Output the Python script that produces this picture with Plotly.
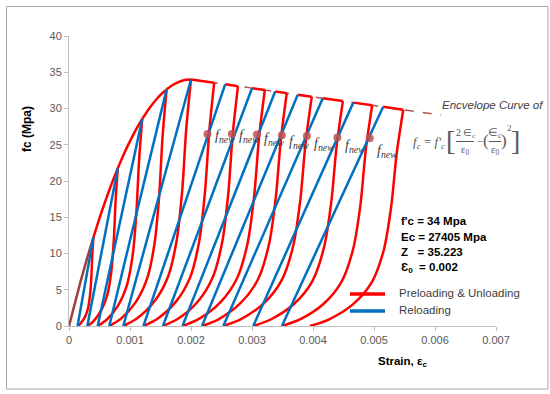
import plotly.graph_objects as go

# ---------------- data ----------------
# ascending envelope (strain, MPa)
env_strain = [0, 0.0001, 0.0002, 0.0003, 0.0004, 0.0005, 0.0006, 0.0007, 0.0008, 0.0009,
              0.0010, 0.0011, 0.0012, 0.0013, 0.0014, 0.0015, 0.0016, 0.0017, 0.0018,
              0.0019, 0.0020]
env_stress = [0, 3.32, 6.46, 9.44, 12.24, 14.88, 17.34, 19.64, 21.76, 23.72, 25.50, 27.12,
              28.56, 29.84, 30.94, 31.88, 32.64, 33.24, 33.66, 33.92, 34.00]
# descending (dashed) envelope
desc_strain = [0.0020, 0.0061]
desc_stress = [34.00, 29.09]

# unloading curves (13 cycles), from envelope point down to plastic strain
uc_strain = [
    [0.000400, 0.000382, 0.000366, 0.000345, 0.000312, 0.000260, 0.000192, 0.000140],
    [0.000800, 0.000765, 0.000735, 0.000695, 0.000630, 0.000530, 0.000400, 0.000300],
    [0.001200, 0.001149, 0.001105, 0.001047, 0.000952, 0.000806, 0.000616, 0.000470],
    [0.001600, 0.001534, 0.001478, 0.001403, 0.001280, 0.001092, 0.000848, 0.000660],
    [0.002000, 0.001922, 0.001856, 0.001767, 0.001623, 0.001401, 0.001112, 0.000890],
    [0.002380, 0.002299, 0.002229, 0.002136, 0.001986, 0.001754, 0.001452, 0.001220],
    [0.002770, 0.002684, 0.002610, 0.002512, 0.002352, 0.002106, 0.001786, 0.001540],
    [0.003210, 0.003116, 0.003035, 0.002927, 0.002751, 0.002481, 0.002130, 0.001860],
    [0.003570, 0.003473, 0.003389, 0.003278, 0.003097, 0.002819, 0.002458, 0.002180],
    [0.003980, 0.003879, 0.003792, 0.003676, 0.003487, 0.003197, 0.002820, 0.002530],
    [0.004490, 0.004387, 0.004299, 0.004181, 0.003990, 0.003696, 0.003314, 0.003020],
    [0.004970, 0.004866, 0.004778, 0.004659, 0.004467, 0.004171, 0.003786, 0.003490],
    [0.005480, 0.005373, 0.005281, 0.005159, 0.004960, 0.004654, 0.004256, 0.003950],
]
uc_stress = [
    [12.24, 9.79, 6.73, 4.28, 2.45, 1.22, 0.37, 0],
    [21.76, 17.41, 11.97, 7.62, 4.35, 2.18, 0.65, 0],
    [28.56, 22.85, 15.71, 10.00, 5.71, 2.86, 0.86, 0],
    [32.64, 26.11, 17.95, 11.42, 6.53, 3.26, 0.98, 0],
    [34.00, 27.20, 18.70, 11.90, 6.80, 3.40, 1.02, 0],
    [33.55, 26.84, 18.45, 11.74, 6.71, 3.36, 1.01, 0],
    [33.08, 26.46, 18.19, 11.58, 6.62, 3.31, 0.99, 0],
    [32.55, 26.04, 17.90, 11.39, 6.51, 3.26, 0.98, 0],
    [32.12, 25.70, 17.67, 11.24, 6.42, 3.21, 0.96, 0],
    [31.63, 25.30, 17.40, 11.07, 6.33, 3.16, 0.95, 0],
    [31.02, 24.82, 17.06, 10.86, 6.20, 3.10, 0.93, 0],
    [30.44, 24.35, 16.74, 10.65, 6.09, 3.04, 0.91, 0],
    [29.83, 23.86, 16.41, 10.44, 5.97, 2.98, 0.89, 0],
]
# reloading lines: from plastic strain (stress 0) to envelope
plastic_strain = [0.00014, 0.00030, 0.00047, 0.00066, 0.00089, 0.00122, 0.00154,
                  0.00186, 0.00218, 0.00253, 0.00302, 0.00349]
rel_strain = [0.0004, 0.0008, 0.0012, 0.0016, 0.0020, 0.00256, 0.0030, 0.00338,
              0.00375, 0.00416, 0.00466, 0.00515]
rel_stress = [12.24, 21.76, 28.56, 32.64, 34.00, 33.33, 32.80, 32.35, 31.91, 31.41,
              30.81, 30.23]
# common points f_new
fnew_strain = [0.00227, 0.00267, 0.00308, 0.00349, 0.00390, 0.00440, 0.00493]
fnew_stress = [26.5, 26.5, 26.4, 26.3, 26.2, 26.0, 25.9]
fnew_label_drop = [0.3, 0.3, 0.7, 1.0, 1.1, 1.3, 1.8]

x_ticks = [0, 0.001, 0.002, 0.003, 0.004, 0.005, 0.006, 0.007]
x_ticktext = ["0", "0.001", "0.002", "0.003", "0.004", "0.005", "0.006", "0.007"]
y_ticks = [0, 5, 10, 15, 20, 25, 30, 35, 40]

params = ["f'c = 34 Mpa", "Ec = 27405 Mpa", "Z\u00a0\u00a0\u00a0= 35.223",
          "\u0190<sub>0</sub>\u00a0 = 0.002"]
legend_names = ["Preloading & Unloading", "Reloading"]

RED = "#ff0000"
BLUE = "#0070c0"
BROWN = "#b5524f"

# ---------------- layout geometry ----------------
W, H = 550, 394
L, R, T, B = 69, 54, 36, 68
PW, PH = W - L - R, H - T - B


def px(x):
    return (x - L) / PW


def py(y):
    return (H - B - y) / PH


fig = go.Figure()

# dashed descending envelope
fig.add_trace(go.Scatter(x=desc_strain, y=desc_stress, mode="lines",
                         line=dict(color=BROWN, width=1.5, dash="dash"),
                         showlegend=False, hoverinfo="skip", cliponaxis=False))

# envelope pieces (red) between reloading point and next unloading point
ex, ey = [], []
for i in range(1, len(uc_strain)):
    s0, f0 = rel_strain[i - 1], rel_stress[i - 1]
    s1 = uc_strain[i][0]
    ex.append(s0)
    ey.append(f0)
    for s, f in zip(env_strain, env_stress):
        if s0 < s < s1:
            ex.append(s)
            ey.append(f)
    ex.append(s1)
    ey.append(uc_stress[i][0])
    ex.append(None)
    ey.append(None)
fig.add_trace(go.Scatter(x=ex, y=ey, mode="lines",
                         line=dict(color=RED, width=2.5, shape="spline", smoothing=0.6),
                         showlegend=False, hoverinfo="skip"))

# unloading curves (red)
ux, uy = [], []
for xs, ys in zip(uc_strain, uc_stress):
    ux += xs + [None]
    uy += ys + [None]
fig.add_trace(go.Scatter(x=ux, y=uy, mode="lines",
                         line=dict(color=RED, width=2.5, shape="spline", smoothing=0.8),
                         showlegend=False, hoverinfo="skip"))

# initial loading segment (brownish)
ix = [s for s in env_strain if s <= uc_strain[0][0]]
iy = env_stress[:len(ix)]
fig.add_trace(go.Scatter(x=ix, y=iy, mode="lines", line=dict(color="#a0403c", width=2.5),
                         showlegend=False, hoverinfo="skip"))

# reloading lines (blue)
bx, by = [], []
for p, s, f in zip(plastic_strain, rel_strain, rel_stress):
    bx += [p, s, None]
    by += [0, f, None]
fig.add_trace(go.Scatter(x=bx, y=by, mode="lines", line=dict(color=BLUE, width=2.5),
                         showlegend=False, hoverinfo="skip"))

# f_new points
fig.add_trace(go.Scatter(x=fnew_strain, y=fnew_stress, mode="markers",
                         marker=dict(color="#c0504d", size=8, opacity=0.85),
                         showlegend=False, hoverinfo="skip"))

annotations = []
for s, f, d in zip(fnew_strain, fnew_stress, fnew_label_drop):
    annotations.append(dict(x=s + 0.00009, y=f - d, xref="x", yref="y",
                            text="<i>f</i><sub><i>new</i></sub>", showarrow=False,
                            xanchor="left", yanchor="middle",
                            font=dict(family="Liberation Serif", size=14, color="#404040")))

# axis titles
annotations.append(dict(x=px(27), y=py(129), xref="paper", yref="paper",
                        text="<b>fc (Mpa)</b>", textangle=-90, showarrow=False,
                        xanchor="center", yanchor="middle",
                        font=dict(family="Liberation Sans", size=12, color="#000000")))
annotations.append(dict(x=px(402), y=py(362), xref="paper", yref="paper",
                        text="<b>Strain, \u03b5<sub>c</sub></b>", showarrow=False,
                        xanchor="center", yanchor="middle",
                        font=dict(family="Liberation Sans", size=11.5, color="#000000")))

# parameter block
for k, t in enumerate(params):
    annotations.append(dict(x=px(399), y=py(221 + 15.5 * k), xref="paper", yref="paper",
                            text="<b>" + t + "</b>", showarrow=False, xanchor="left",
                            yanchor="middle",
                            font=dict(family="Liberation Sans", size=11.5, color="#000000")))

# manual legend
legend_cols = [RED, BLUE]
legend_y = [294, 311]
shapes = []
for name, col, yy in zip(legend_names, legend_cols, legend_y):
    shapes.append(dict(type="line", xref="paper", yref="paper", x0=px(350), x1=px(385),
                       y0=py(yy), y1=py(yy), line=dict(color=col, width=3.5)))
    annotations.append(dict(x=px(397), y=py(yy - 1), xref="paper", yref="paper", text=name,
                            showarrow=False, xanchor="left", yanchor="middle",
                            font=dict(family="Liberation Sans", size=11.5, color="#404040")))

# envelope caption and equation
annotations.append(dict(x=px(440), y=py(105), xref="paper", yref="paper",
                        text="<i>Encvelope Curve of</i>", showarrow=False, xanchor="left",
                        yanchor="middle",
                        font=dict(family="Liberation Sans", size=11.5, color="#404040")))
EQ = dict(family="Liberation Serif", color="#595959")
eq_items = [
    ("<i>f</i><sub><i>c</i></sub> = <i>f'</i><sub><i>c</i></sub>", 447, 142, 13, "right"),
    ("[", 450, 140, 28, "center"),
    ("2\u2009\u2208<sub>c</sub>", 465, 133, 10, "center"),
    ("\u03b5<sub>0</sub>", 465, 150, 10.5, "center"),
    ("\u2212", 480, 141, 11, "center"),
    ("(", 486, 140, 17, "center"),
    ("\u2208<sub>c</sub>", 495, 133, 10.5, "center"),
    ("\u03b5<sub>0</sub>", 495, 150, 10.5, "center"),
    (")", 504, 140, 17, "center"),
    ("2", 509, 128, 9, "center"),
    ("]", 515, 140, 28, "center"),
]
for txt, xx, yy, sz, anc in eq_items:
    annotations.append(dict(x=px(xx), y=py(yy), xref="paper", yref="paper", text=txt,
                            showarrow=False, xanchor=anc, yanchor="middle",
                            font=dict(size=sz, **EQ)))
for x0, x1 in [(456, 474), (489, 501)]:
    shapes.append(dict(type="line", xref="paper", yref="paper", x0=px(x0), x1=px(x1),
                       y0=py(141.5), y1=py(141.5), line=dict(color="#595959", width=1)))

# outer chart border
shapes.append(dict(type="rect", xref="paper", yref="paper", x0=px(6.5), x1=px(548),
                   y0=py(389), y1=py(6.5), line=dict(color="#a6a6a6", width=1),
                   layer="below"))

axis_font = dict(family="Liberation Sans", size=11, color="#595959")
fig.update_layout(
    width=W, height=H,
    margin=dict(l=L, r=R, t=T, b=B),
    paper_bgcolor="white", plot_bgcolor="white",
    showlegend=False,
    annotations=annotations,
    shapes=shapes,
    xaxis=dict(range=[0, 0.007], tickvals=x_ticks, ticktext=x_ticktext, showgrid=False,
               zeroline=False, showline=True, linecolor="#bfbfbf", linewidth=1,
               ticks="outside", ticklen=4, tickcolor="#bfbfbf", tickfont=axis_font),
    yaxis=dict(range=[0, 40], tickvals=y_ticks, showgrid=False, zeroline=False,
               showline=True, linecolor="#bfbfbf", linewidth=1, ticks="outside",
               ticklen=4, tickcolor="#bfbfbf", tickfont=axis_font),
)

fig.write_html("out.html")
